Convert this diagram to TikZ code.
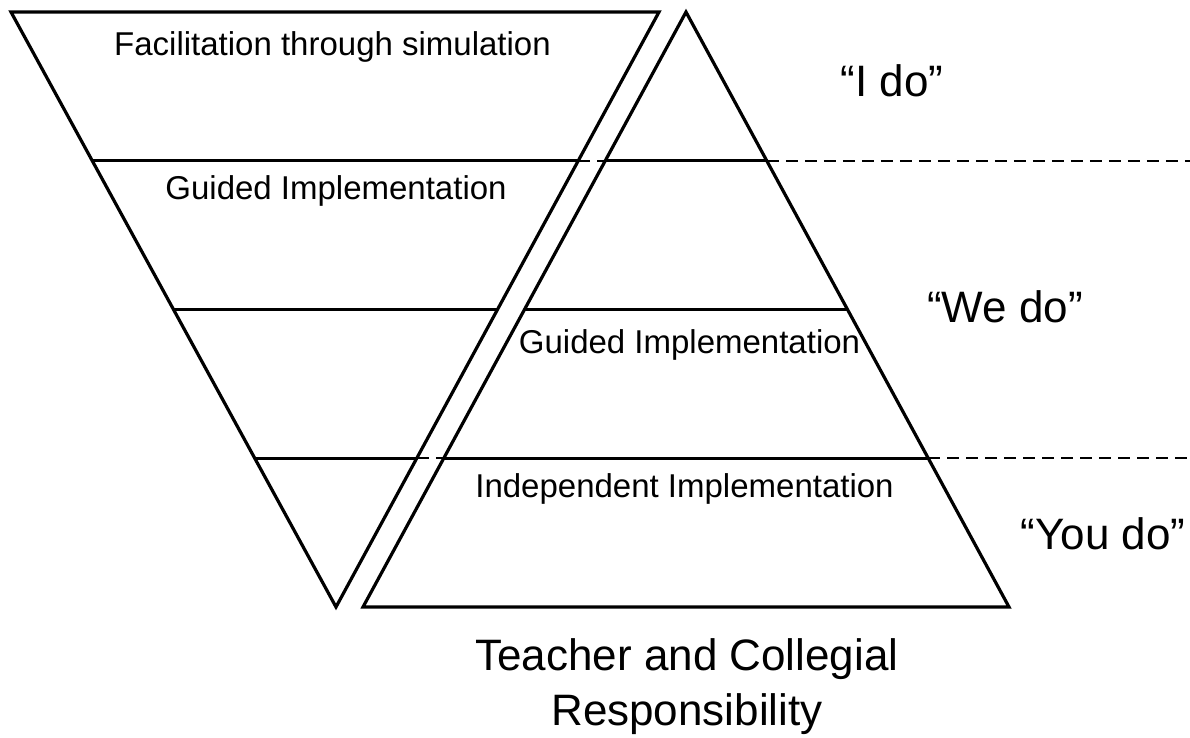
\documentclass[tikz,border=0pt]{standalone}
\usepackage{fontspec}
\setmainfont{Liberation Sans}
\usetikzlibrary{calc}
\tikzset{
  tri/.style={draw=black, line width=3.2pt, line join=miter},
  chord/.style={draw=black, line width=3.2pt},
  guide/.style={draw=black, line width=2.4pt, dash pattern=on 12pt off 7pt},
  lab/.style={inner sep=0pt, anchor=base, font=\fontsize{33}{40}\selectfont},
  big/.style={inner sep=0pt, anchor=base, font=\fontsize{44}{55}\selectfont, align=center}
}
\begin{document}
\begin{tikzpicture}[x=1pt, y=-1pt]
\useasboundingbox (0,0) rectangle (1190,738);
% inverted triangle
\coordinate (A) at (11,12);
\coordinate (B) at (659,12);
\coordinate (C) at (336,607);
% upright triangle
\coordinate (D) at (686,12);
\coordinate (E) at (363,607);
\coordinate (F) at (1009,607);
% chord end points
\coordinate (a1) at ($(A)!0.25!(C)$);
\coordinate (b1) at ($(B)!0.25!(C)$);
\coordinate (a2) at ($(A)!0.5!(C)$);
\coordinate (b2) at ($(B)!0.5!(C)$);
\coordinate (a3) at ($(A)!0.75!(C)$);
\coordinate (b3) at ($(B)!0.75!(C)$);
\coordinate (e1) at ($(D)!0.25!(E)$);
\coordinate (f1) at ($(D)!0.25!(F)$);
\coordinate (e2) at ($(D)!0.5!(E)$);
\coordinate (f2) at ($(D)!0.5!(F)$);
\coordinate (e3) at ($(D)!0.75!(E)$);
\coordinate (f3) at ($(D)!0.75!(F)$);
\coordinate (r1) at (1190,0 |- f1);
\coordinate (r3) at (1190,0 |- f3);
% triangles
\draw[tri] (A) -- (B) -- (C) -- cycle;
\draw[tri] (D) -- (E) -- (F) -- cycle;
% chords
\draw[chord] (a1) -- (b1);
\draw[chord] (a2) -- (b2);
\draw[chord] (a3) -- (b3);
\draw[chord] (e1) -- (f1);
\draw[chord] (e2) -- (f2);
\draw[chord] (e3) -- (f3);
% dashed guides
\draw[guide] (b1) -- (e1);
\draw[guide] (b3) -- (e3);
\draw[guide] (f1) -- (r1);
\draw[guide] (f3) -- (r3);
% labels
\node[lab] (fac) at (332.5,56) {Facilitation through simulation};
\node[lab] (gl) at (336,200) {Guided Implementation};
\node[lab] (gr) at (689.5,353) {Guided Implementation};
\node[lab] (ind) at (684.5,497) {Independent Implementation};
\node[big] (ido) at (892,97) {“I do”};
\node[big] (wedo) at (1005,322) {“We do”};
\node[big] (youdo) at (1103,549) {“You do”};
\node[big] (resp) at (687,725) {Teacher and Collegial\\Responsibility};
\end{tikzpicture}
\end{document}
